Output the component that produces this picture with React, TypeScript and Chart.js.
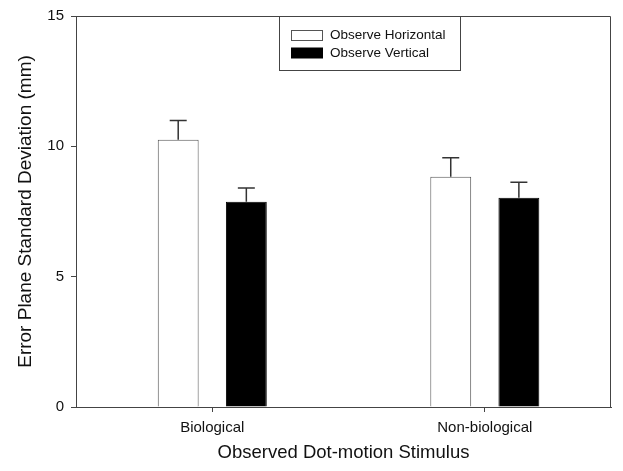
import React, { useEffect, useRef } from 'react';
import { Chart, registerables } from 'chart.js';

Chart.register(...registerables);

const categories = ['Biological', 'Non-biological'];
const seriesNames = ['Observe Horizontal', 'Observe Vertical'];
const horizontalMeans = [10.25, 8.83];
const horizontalErrors = [0.74, 0.73];
const verticalMeans = [7.87, 8.03];
const verticalErrors = [0.53, 0.59];
const yTicks = [0, 5, 10, 15];

const FONT = '"Liberation Sans", Arial, Helvetica, sans-serif';
const AXIS_COLOR = '#444444';
const errorsBySeries = [horizontalErrors, verticalErrors];

const errorBarPlugin = {
  id: 'errorBars',
  afterDatasetsDraw(chart: any) {
    const ctx = chart.ctx;
    const yScale = chart.scales.y;
    chart.data.datasets.forEach((ds: any, di: number) => {
      const meta = chart.getDatasetMeta(di);
      const errs = errorsBySeries[di];
      meta.data.forEach((bar: any, i: number) => {
        const v = ds.data[i].y;
        const top = yScale.getPixelForValue(v + errs[i]);
        const x = bar.x;
        const y0 = bar.y;
        ctx.save();
        ctx.strokeStyle = '#333333';
        ctx.lineWidth = 1.5;
        ctx.beginPath();
        ctx.moveTo(x, y0);
        ctx.lineTo(x, top);
        ctx.moveTo(x - 8.5, top);
        ctx.lineTo(x + 8.5, top);
        ctx.stroke();
        ctx.restore();
      });
    });
  },
};

const frameLegendPlugin = {
  id: 'frameLegend',
  afterDraw(chart: any) {
    const { ctx, chartArea: a } = chart;
    ctx.save();
    ctx.strokeStyle = AXIS_COLOR;
    ctx.lineWidth = 1;
    ctx.beginPath();
    ctx.moveTo(a.left, a.top + 0.5);
    ctx.lineTo(a.right - 0.5, a.top + 0.5);
    ctx.lineTo(a.right - 0.5, a.bottom);
    ctx.stroke();

    // legend box
    const bx = 279.5;
    const by = a.top + 0.5;
    const bw = 181;
    const bh = 54;
    ctx.fillStyle = '#ffffff';
    ctx.fillRect(bx, by, bw, bh);
    ctx.strokeRect(bx, by, bw, bh);

    const rows = [
      { fill: '#ffffff', stroke: '#555555', cy: a.top + 19.5 },
      { fill: '#000000', stroke: '#000000', cy: a.top + 37 },
    ];
    ctx.font = `13.5px ${FONT}`;
    ctx.textBaseline = 'middle';
    ctx.textAlign = 'left';
    rows.forEach((r, i) => {
      ctx.fillStyle = r.fill;
      ctx.fillRect(291.5, r.cy - 5, 31, 10);
      ctx.strokeStyle = r.stroke;
      ctx.strokeRect(291.5, r.cy - 5, 31, 10);
      ctx.fillStyle = '#111111';
      ctx.fillText(chart.data.datasets[i].label, 330, r.cy);
    });
    ctx.restore();
  },
};

export default function App() {
  const ref = useRef<HTMLCanvasElement | null>(null);

  useEffect(() => {
    if (!ref.current) return;
    const chart = new Chart(ref.current, {
      type: 'bar',
      data: {
        datasets: [
          {
            label: seriesNames[0],
            data: categories.map((_, i) => ({ x: i, y: horizontalMeans[i] })),
            backgroundColor: '#ffffff',
            borderColor: '#555555',
            borderWidth: 1,
            categoryPercentage: 0.5,
            barPercentage: 0.6,
          },
          {
            label: seriesNames[1],
            data: categories.map((_, i) => ({ x: i, y: verticalMeans[i] })),
            backgroundColor: '#000000',
            borderColor: '#000000',
            borderWidth: 1,
            categoryPercentage: 0.5,
            barPercentage: 0.6,
          },
        ] as any,
      },
      options: {
        responsive: false,
        animation: false,
        layout: { padding: { top: 15, right: 12, left: 0, bottom: 0 } },
        plugins: {
          legend: { display: false },
          tooltip: { enabled: false },
        },
        scales: {
          x: {
            type: 'linear',
            min: -0.5,
            max: 1.463,
            offset: false,
            afterBuildTicks: (scale: any) => {
              scale.ticks = categories.map((_, i) => ({ value: i }));
            },
            afterFit: (scale: any) => {
              scale.height = 64;
            },
            grid: {
              display: true,
              drawOnChartArea: false,
              drawTicks: true,
              tickLength: 5,
              color: AXIS_COLOR,
              offset: false,
            },
            border: { display: true, color: AXIS_COLOR, width: 1 },
            ticks: {
              autoSkip: false,
              maxRotation: 0,
              padding: 7,
              color: '#111111',
              font: { family: FONT, size: 15 },
              callback: (v: any) => categories[v] ?? '',
            },
            title: {
              display: true,
              text: 'Observed Dot-motion Stimulus',
              color: '#111111',
              font: { family: FONT, size: 18.5 },
              padding: { top: 0, bottom: 7 },
            },
          },
          y: {
            min: 0,
            max: 15,
            afterBuildTicks: (scale: any) => {
              scale.ticks = yTicks.map((v) => ({ value: v }));
            },
            afterFit: (scale: any) => {
              scale.width = 76;
            },
            grid: {
              display: true,
              drawOnChartArea: false,
              drawTicks: true,
              tickLength: 5,
              color: AXIS_COLOR,
            },
            border: { display: true, color: AXIS_COLOR, width: 1 },
            ticks: {
              padding: 7,
              color: '#111111',
              font: { family: FONT, size: 15 },
            },
            title: {
              display: true,
              text: 'Error Plane Standard Deviation (mm)',
              color: '#111111',
              font: { family: FONT, size: 19 },
              padding: { top: 14, bottom: 0 },
            },
          },
        },
      } as any,
      plugins: [errorBarPlugin, frameLegendPlugin],
    });
    return () => chart.destroy();
  }, []);

  return (
    <div style={{ position: 'absolute', left: 0, top: 0, width: 623, height: 471, background: '#ffffff' }}>
      <canvas ref={ref} width={623} height={471} style={{ display: 'block' }} />
    </div>
  );
}
